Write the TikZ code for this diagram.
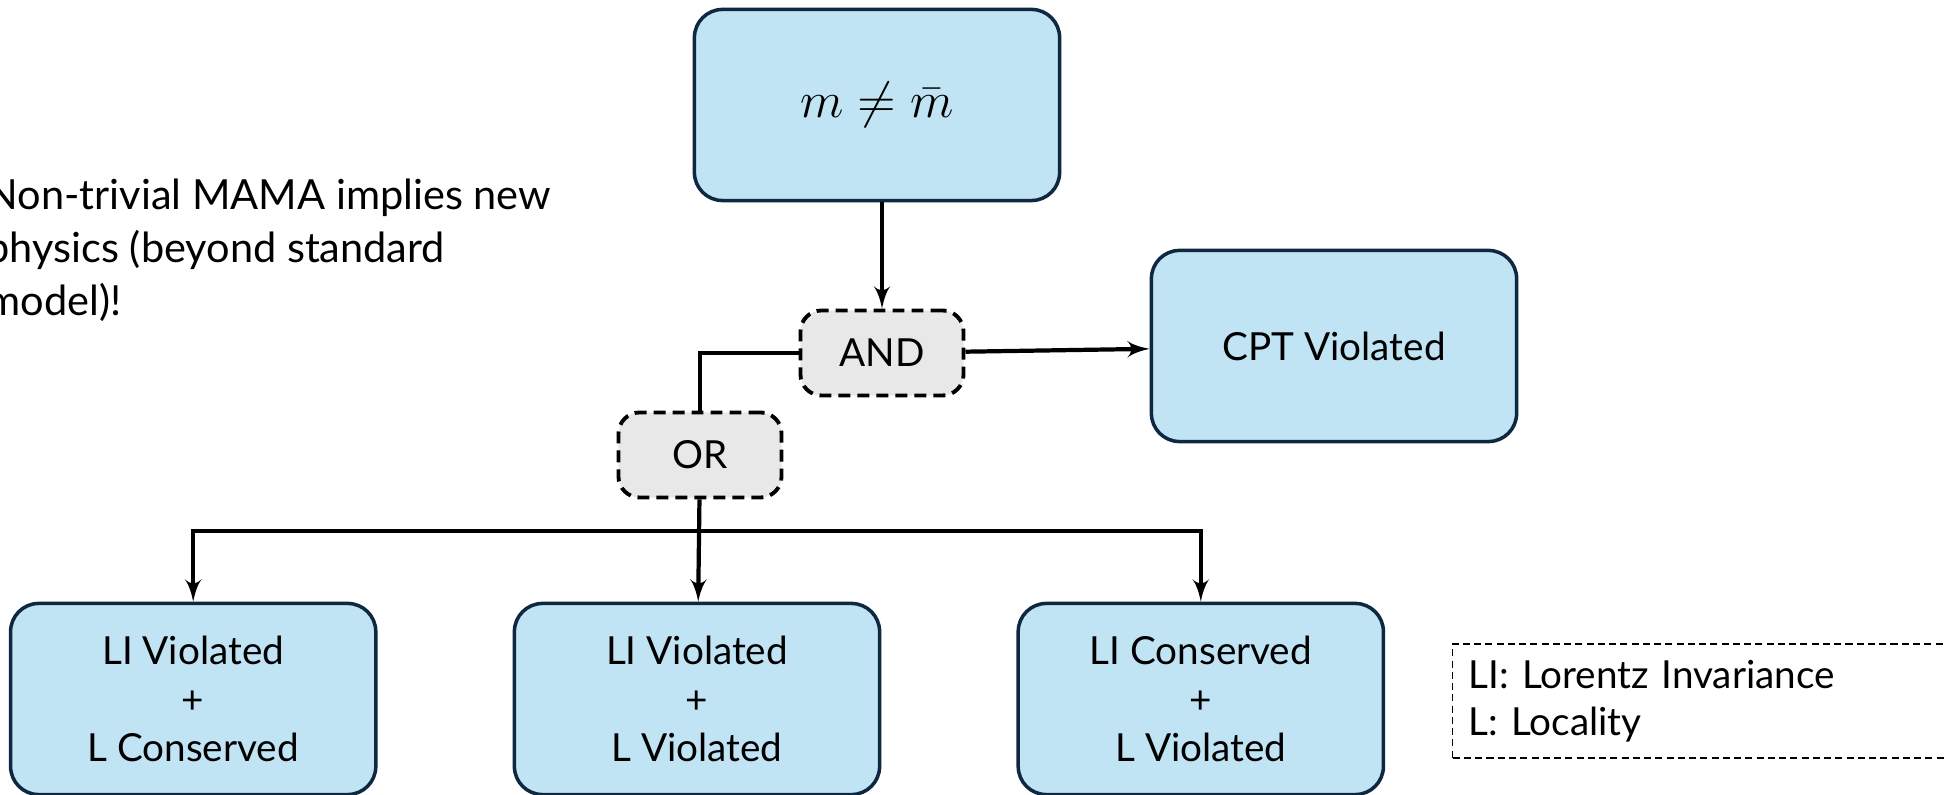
\documentclass[tikz,border=0pt]{standalone}
\usepackage{amsmath,amssymb}
\usepackage{fontspec}
\setmainfont{Lato}
\usepackage{tikz}
\usetikzlibrary{arrows}
\definecolor{boxfill}{RGB}{192,228,244}
\definecolor{boxline}{RGB}{14,40,65}
\definecolor{gatefill}{RGB}{232,232,232}

\begin{document}
\begin{tikzpicture}[
  x=0.01cm,y=-0.01cm,
  font=\fontsize{11}{13.7}\selectfont,
  every matrix/.style={ampersand replacement=\&,column sep=1.35cm,inner sep=0pt},
  block/.style={draw=boxline,line width=1pt,rounded corners=8pt,fill=boxfill,minimum width=3.65cm,minimum height=1.91cm},
  gate/.style={draw,line width=1.1pt,dash pattern=on 3.4pt off 2pt,rounded corners=6pt,fill=gatefill,minimum width=1.63cm,minimum height=0.85cm},
  legend/.style={draw,thin,dash pattern=on 2pt off 1.2pt,minimum height=1.14cm,text width=6cm,inner xsep=0.16cm,align=left,font=\fontsize{11}{13.4}\selectfont},
  to/.style={->,>=latex',very thick},
  line/.style={very thick},
  every node/.style={align=center}]

  \useasboundingbox (0,0) rectangle (1946,795);

  % Side remark and key
  \node[anchor=west,align=left,inner sep=0pt,font=\fontsize{11.8}{15.1}\selectfont] (remark) at (-14,250)
    {Non-trivial MAMA implies new\\physics (beyond standard\\model)!};
  \node[legend,anchor=west] (key) at (1452,701) {LI: Lorentz Invariance\\L: Locality};

  % Upper part
  \node[block] (mass) at (877,105) {\fontsize{14.5}{17}\selectfont$m \neq \bar{m}$};
  \node[gate] (gand) at (882,353) {AND};
  \node[gate] (gor) at (700,455) {OR};
  \node[block] (cpt) at (1334,346) {CPT Violated};

  % Lower row using a matrix layout
  \matrix (cases) at (697,699) {
    \node[block] (LVLC) {LI Violated\\+\\L Conserved};
      \& \node[block] (LVLV) {LI Violated\\+\\L Violated};
      \& \node[block] (LCLV) {LI Conserved\\+\\L Violated};\\
  };

  % Connectors
  \draw[to] (mass.south -| gand.north) -- (gand.north);
  \draw[to] (gand) -- (cpt);
  \draw[line] (gor.north) |- (gand.west);
  \coordinate (fork) at (gor.south |- 0,531);
  \draw[to] (gor) -- (LVLV);
  \draw[to] (fork) -| (LVLC.north);
  \draw[to] (fork) -| (LCLV.north);
\end{tikzpicture}
\end{document}
